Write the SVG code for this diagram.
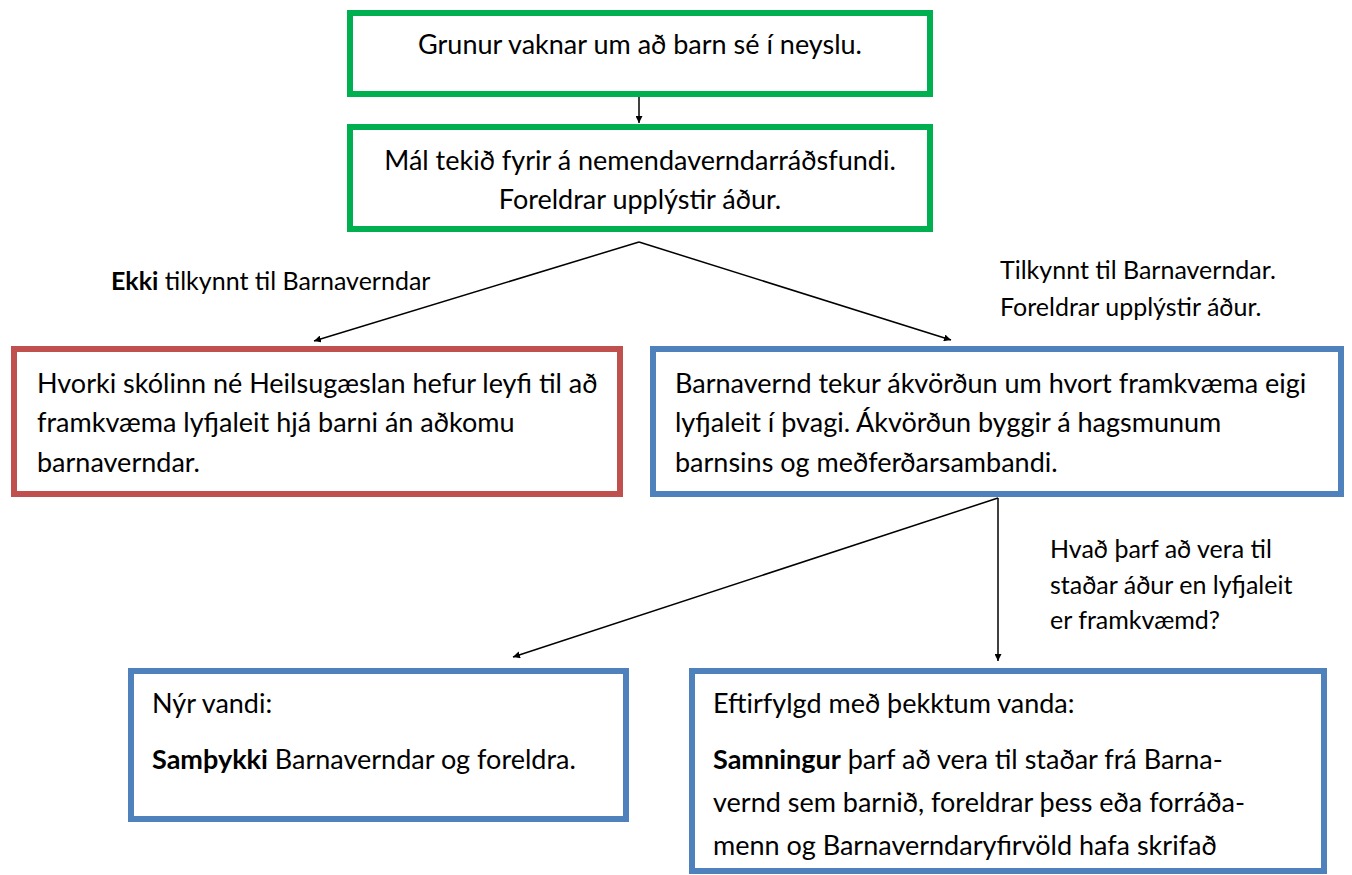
<svg xmlns="http://www.w3.org/2000/svg" width="1352" height="875" viewBox="0 0 1352 875">
<defs>
<style>
.box{fill:#fff;stroke-width:6}
.g{stroke:#00B050}
.r{stroke:#C0504D}
.b{stroke:#4F81BD}
.t{font-family:Lato,"Open Sans",sans-serif;font-size:27px;fill:#000}
.l{font-family:Lato,"Open Sans",sans-serif;font-size:25px;fill:#000}
.bold{font-weight:bold}
.c{stroke:#000;stroke-width:1.5;fill:none;marker-end:url(#ah)}
</style>
<marker id="ah" viewBox="0 0 10 10" refX="10" refY="5" markerWidth="7" markerHeight="7" markerUnits="userSpaceOnUse" orient="auto">
<path d="M0,0 L10,5 L0,10 z" fill="#000"/>
</marker>
</defs>
<rect width="1352" height="875" fill="#fff"/>
<g id="connectors">
<line class="c" x1="639" y1="97" x2="639" y2="123"/>
<line class="c" x1="639" y1="242" x2="314" y2="341"/>
<line class="c" x1="639" y1="242" x2="951" y2="340"/>
<line class="c" x1="998" y1="498" x2="513" y2="657"/>
<line class="c" x1="998" y1="498" x2="998" y2="661"/>
</g>
<g id="node1">
<rect class="box g" x="350" y="13" width="580" height="81"/>
<text class="t" x="640" y="54" text-anchor="middle">Grunur vaknar um að barn sé í neyslu.</text>
</g>
<g id="node2">
<rect class="box g" x="350" y="127" width="580" height="102"/>
<text class="t" x="640" y="170" text-anchor="middle">Mál tekið fyrir á nemendaverndarráðsfundi.</text>
<text class="t" x="640" y="209" text-anchor="middle">Foreldrar upplýstir áður.</text>
</g>
<g id="label-ekki">
<text class="l" x="111" y="290"><tspan class="bold">Ekki</tspan> tilkynnt til Barnaverndar</text>
</g>
<g id="label-tilkynnt">
<text class="l" x="1000" y="279">Tilkynnt til Barnaverndar.</text>
<text class="l" x="1000" y="316">Foreldrar upplýstir áður.</text>
</g>
<g id="node3">
<rect class="box r" x="14" y="349" width="606" height="145"/>
<text class="t" x="37" y="393">Hvorki skólinn né Heilsugæslan hefur leyfi til að</text>
<text class="t" x="37" y="432">framkvæma lyfjaleit hjá barni án aðkomu</text>
<text class="t" x="37" y="472">barnaverndar.</text>
</g>
<g id="node4">
<rect class="box b" x="653" y="349" width="688" height="145"/>
<text class="t" x="675" y="393">Barnavernd tekur ákvörðun um hvort framkvæma eigi</text>
<text class="t" x="675" y="432">lyfjaleit í þvagi. Ákvörðun byggir á hagsmunum</text>
<text class="t" x="675" y="472">barnsins og meðferðarsambandi.</text>
</g>
<g id="label-hvad">
<text class="l" x="1050" y="558">Hvað þarf að vera til</text>
<text class="l" x="1050" y="594">staðar áður en lyfjaleit</text>
<text class="l" x="1050" y="629">er framkvæmd?</text>
</g>
<g id="node5">
<rect class="box b" x="131" y="671" width="495" height="148"/>
<text class="t" x="152" y="713">Nýr vandi:</text>
<text class="t" x="152" y="769"><tspan class="bold">Samþykki</tspan> Barnaverndar og foreldra.</text>
</g>
<g id="node6">
<rect class="box b" x="692" y="671" width="632" height="200"/>
<text class="t" x="713" y="713">Eftirfylgd með þekktum vanda:</text>
<text class="t" x="713" y="769"><tspan class="bold">Samningur</tspan> þarf að vera til staðar frá Barna-</text>
<text class="t" x="713" y="812">vernd sem barnið, foreldrar þess eða forráða-</text>
<text class="t" x="713" y="855">menn og Barnaverndaryfirvöld hafa skrifað</text>
</g>
</svg>
